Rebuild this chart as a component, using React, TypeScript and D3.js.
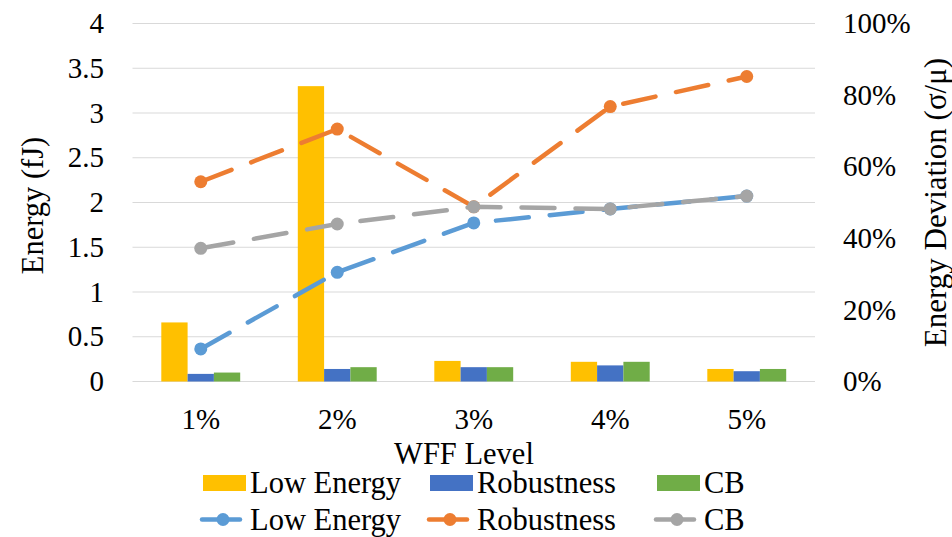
import React from "react";
import * as d3 from "d3";

// WFF levels on the category axis
const categories = ["1%", "2%", "3%", "4%", "5%"];
const seriesNames = ["Low Energy", "Robustness", "CB"];

// Energy per scheme (fJ), clustered bars on the left axis
const energyLowEnergy = [0.66, 3.3, 0.23, 0.22, 0.14];
const energyRobustness = [0.085, 0.14, 0.16, 0.18, 0.115];
const energyCB = [0.1, 0.16, 0.16, 0.22, 0.14];

// Energy deviation σ/μ (%) per scheme, dashed lines on the right axis
const devLowEnergy = [9.1, 30.5, 44.3, 48.2, 51.8];
const devRobustness = [55.8, 70.5, 48.8, 76.8, 85.2];
const devCB = [37.2, 44.0, 48.8, 48.2, 51.8];

const leftTicks = [0, 0.5, 1, 1.5, 2, 2.5, 3, 3.5, 4];
const rightTicks = [0, 20, 40, 60, 80, 100];

const barColors = ["#FFC000", "#4472C4", "#70AD47"];
const lineColors = ["#5B9BD5", "#ED7D31", "#A5A5A5"];

const W = 952;
const H = 537;
const plotL = 132.5;
const plotR = 815;
const plotT = 23.5;
const plotB = 381.5;
const FONT = "Liberation Serif, Times New Roman, Times, serif";
const tickText = { fontFamily: FONT, fontSize: 29, fill: "#000" } as const;
const bigText = { fontFamily: FONT, fontSize: 30.5, fill: "#000" } as const;

export default function App() {
  const energySeries = [energyLowEnergy, energyRobustness, energyCB];
  const devSeries = [devLowEnergy, devRobustness, devCB];

  const x0 = d3.scaleBand<string>().domain(categories).range([plotL, plotR]).padding(0);
  const groupW = x0.bandwidth() / 1.73;
  const x1 = d3.scaleBand<string>().domain(seriesNames).range([0, groupW]).padding(0);
  const yL = d3.scaleLinear().domain([0, 4]).range([plotB, plotT]);
  const yR = d3.scaleLinear().domain([0, 100]).range([plotB, plotT]);
  const cx = (c: string) => (x0(c) as number) + x0.bandwidth() / 2;

  const line = d3
    .line<number>()
    .x((_, i) => cx(categories[i]))
    .y((d) => yR(d));

  const legendCols = [203, 430, 657];

  return (
    <svg
      width={W}
      height={H}
      style={{ position: "absolute", left: 0, top: 0, background: "#fff", fontFamily: FONT }}
    >
      {/* gridlines */}
      {leftTicks.map((t) => (
        <line key={t} x1={plotL} x2={plotR} y1={yL(t)} y2={yL(t)} stroke="#D9D9D9" strokeWidth={1.2} />
      ))}

      {/* bars */}
      {energySeries.map((vals, s) =>
        vals.map((v, i) => {
          const c = categories[i];
          const x = cx(c) - groupW / 2 + (x1(seriesNames[s]) as number);
          return (
            <rect
              key={`${s}-${i}`}
              x={x}
              y={yL(v)}
              width={x1.bandwidth()}
              height={plotB - yL(v)}
              fill={barColors[s]}
            />
          );
        })
      )}

      {/* deviation lines */}
      {devSeries.map((vals, s) => (
        <g key={s}>
          <path
            d={line(vals) as string}
            fill="none"
            stroke={lineColors[s]}
            strokeWidth={4.5}
            strokeDasharray="33 21"
            strokeLinecap="round"
            strokeLinejoin="round"
          />
          {vals.map((v, i) => (
            <circle key={i} cx={cx(categories[i])} cy={yR(v)} r={6.5} fill={lineColors[s]} />
          ))}
        </g>
      ))}

      {/* left axis labels */}
      {leftTicks.map((t) => (
        <text key={t} x={104} y={yL(t) + 9.7} textAnchor="end" style={tickText}>
          {String(t)}
        </text>
      ))}
      {/* right axis labels */}
      {rightTicks.map((t) => (
        <text key={t} x={843} y={yR(t) + 9.7} textAnchor="start" style={tickText}>
          {`${t}%`}
        </text>
      ))}
      {/* category labels */}
      {categories.map((c) => (
        <text key={c} x={cx(c)} y={429} textAnchor="middle" style={tickText}>
          {c}
        </text>
      ))}

      {/* axis titles */}
      <text transform={`translate(43, ${(plotT + plotB) / 2 + 3}) rotate(-90)`} textAnchor="middle" style={bigText}>
        Energy (fJ)
      </text>
      <text
        transform={`translate(946, ${(plotT + plotB) / 2}) rotate(-90)`}
        textAnchor="middle"
        style={{ ...tickText, fontSize: 31 }}
      >
        Energy Deviation (σ/μ)
      </text>
      <text x={464} y={464} textAnchor="middle" style={bigText}>
        WFF Level
      </text>

      {/* legend: bars */}
      {seriesNames.map((n, s) => (
        <g key={`lb-${s}`}>
          <rect x={legendCols[s]} y={475} width={43} height={16} fill={barColors[s]} />
          <text x={legendCols[s] + 47} y={493} style={bigText}>
            {n}
          </text>
        </g>
      ))}
      {/* legend: lines */}
      {seriesNames.map((n, s) => (
        <g key={`ll-${s}`}>
          <line
            x1={legendCols[s] - 1}
            x2={legendCols[s] + 37}
            y1={519.5}
            y2={519.5}
            stroke={lineColors[s]}
            strokeWidth={4.5}
            strokeLinecap="round"
          />
          <circle cx={legendCols[s] + 20} cy={519.5} r={6.5} fill={lineColors[s]} />
          <text x={legendCols[s] + 47} y={530} style={bigText}>
            {n}
          </text>
        </g>
      ))}
    </svg>
  );
}
